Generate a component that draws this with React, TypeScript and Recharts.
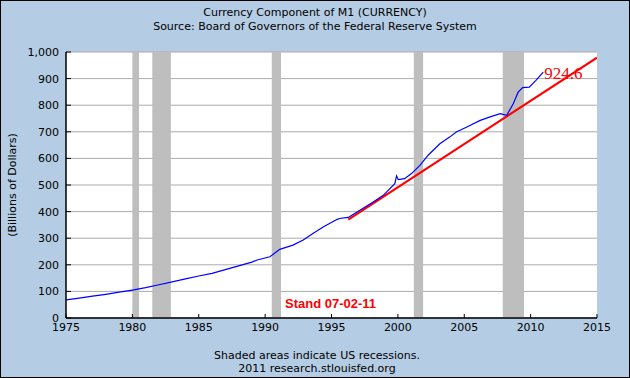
import React from 'react';
import { LineChart, Line, XAxis, YAxis, CartesianGrid, ReferenceArea, ReferenceDot, Label } from 'recharts';

const currencyYears = [
  1975, 1976, 1977, 1978, 1979, 1980, 1981, 1982, 1983, 1984, 1985, 1986, 1987, 1988, 1989,
  1989.4, 1990.36, 1991.1, 1992.1, 1992.87, 1993.6, 1994.4, 1995.4, 1995.6, 1996.26, 1997.14,
  1998.14, 1998.9, 1999.77, 1999.9, 2000.03, 2000.5, 2001.03, 2001.66, 2002.28, 2003.16,
  2003.9, 2004.4, 2005.2, 2006.2, 2006.9, 2007.7, 2008.2, 2008.7, 2009.06, 2009.4, 2009.9,
  2010.4, 2010.95,
];
const currencyValues = [
  68, 75, 82, 89, 97, 105, 114, 125, 136, 147, 158, 168, 182, 196, 210,
  218, 230, 258, 274, 293, 318, 343, 370, 374, 378, 405,
  436, 461, 505, 534, 520, 524, 543, 574, 612, 655,
  680, 699, 718, 743, 755, 768, 762, 806, 849, 866, 868,
  893, 924.6,
];
const trendYears = [1996.26, 2015];
const trendValues = [370, 979];

const recessionStarts = [1980.0, 1981.5, 1990.5, 2001.2, 2007.9];
const recessionEnds = [1980.5, 1982.9, 1991.2, 2001.9, 2009.5];

const xTicks = [1975, 1980, 1985, 1990, 1995, 2000, 2005, 2010, 2015];
const yTicks = [0, 100, 200, 300, 400, 500, 600, 700, 800, 900, 1000];

const titleLine1 = 'Currency Component of M1 (CURRENCY)';
const titleLine2 = 'Source: Board of Governors of the Federal Reserve System';
const yAxisTitle = '(Billions of Dollars)';
const footLine1 = 'Shaded areas indicate US recessions.';
const footLine2 = '2011 research.stlouisfed.org';
const lastValueLabel = '924.6';
const standLabel = 'Stand 07-02-11';
const standYear = 1991.5;
const standValue = 55;

const currencyData = currencyYears.map((year, i) => ({ year, value: currencyValues[i] }));
const trendData = trendYears.map((year, i) => ({ year, value: trendValues[i] }));

const FONT = 'DejaVu Sans, Verdana, sans-serif';

const XTick = (props: any) => {
  const { x, y, payload } = props;
  return (
    <g>
      <line x1={x} y1={y} x2={x} y2={y - 4} stroke="#000" strokeWidth={1} />
      <text x={x} y={y + 13} textAnchor="middle" fontFamily={FONT} fontSize={11} fill="#000">
        {payload.value}
      </text>
    </g>
  );
};

const YTick = (props: any) => {
  const { x, y, payload } = props;
  return (
    <g>
      <line x1={x} y1={y} x2={x + 5} y2={y} stroke="#000" strokeWidth={1} />
      <text x={x - 7} y={y + 4} textAnchor="end" fontFamily={FONT} fontSize={11} fill="#000">
        {Number(payload.value).toLocaleString('en-US')}
      </text>
    </g>
  );
};

const EndLabel = (props: any) => {
  const { x, y, index } = props;
  if (index !== currencyData.length - 1) return null;
  return (
    <text x={x + 1} y={y + 7} fontFamily="Liberation Serif, Times New Roman, serif" fontSize={17} fill="#ff0000">
      {lastValueLabel}
    </text>
  );
};

export default function App() {
  return (
    <div style={{ position: 'absolute', left: 0, top: 0, width: 630, height: 378, background: '#b4cde4' }}>
      <LineChart width={630} height={378} data={currencyData} margin={{ top: 52, right: 33, left: 0, bottom: 0 }}>
        <CartesianGrid horizontal vertical={false} stroke="#aaaaaa" fill="#ffffff" fillOpacity={1} />
        {recessionStarts.map((s, i) => (
          <ReferenceArea key={i} x1={s} x2={recessionEnds[i]} y1={0} y2={1000} fill="#bebebe" fillOpacity={1} stroke="none" />
        ))}
        <XAxis
          dataKey="year"
          type="number"
          domain={[1975, 2015]}
          ticks={xTicks}
          allowDataOverflow
          height={60}
          tickSize={0}
          tickMargin={0}
          tickLine={false}
          axisLine={{ stroke: '#000', strokeWidth: 1.5 }}
          tick={<XTick />}
        />
        <YAxis
          type="number"
          domain={[0, 1000]}
          ticks={yTicks}
          width={66}
          tickSize={0}
          tickMargin={0}
          tickLine={false}
          axisLine={{ stroke: '#000', strokeWidth: 1.5 }}
          tick={<YTick />}
        />
        <Line data={trendData} dataKey="value" stroke="#ff0000" strokeWidth={2.2} dot={false} isAnimationActive={false} />
        <Line data={currencyData} dataKey="value" stroke="#0000ff" strokeWidth={1.2} dot={false} isAnimationActive={false} label={<EndLabel />} />
        <ReferenceDot x={standYear} y={standValue} r={0} fill="none" stroke="none">
          <Label position="right" offset={0} content={(p: any) => (
            <text x={p.viewBox.x} y={p.viewBox.y + 5} fontFamily="Liberation Sans, Arial, sans-serif" fontWeight="bold" fontSize={13} fill="#ff0000">
              {standLabel}
            </text>
          )} />
        </ReferenceDot>
      </LineChart>
      <svg width={630} height={378} style={{ position: 'absolute', left: 0, top: 0, pointerEvents: 'none' }}>
        <text x={315} y={16} textAnchor="middle" fontFamily={FONT} fontSize={11} fill="#000">{titleLine1}</text>
        <text x={315} y={30} textAnchor="middle" fontFamily={FONT} fontSize={11} fill="#000">{titleLine2}</text>
        <text x={0} y={0} transform="translate(16,185) rotate(-90)" textAnchor="middle" fontFamily={FONT} fontSize={11} fill="#000">{yAxisTitle}</text>
        <text x={317} y={359} textAnchor="middle" fontFamily={FONT} fontSize={11} fill="#000">{footLine1}</text>
        <text x={317} y={372} textAnchor="middle" fontFamily={FONT} fontSize={11} fill="#000">{footLine2}</text>
        <rect x={0.5} y={0.5} width={629} height={377} fill="none" stroke="#000" strokeWidth={1} />
      </svg>
    </div>
  );
}
